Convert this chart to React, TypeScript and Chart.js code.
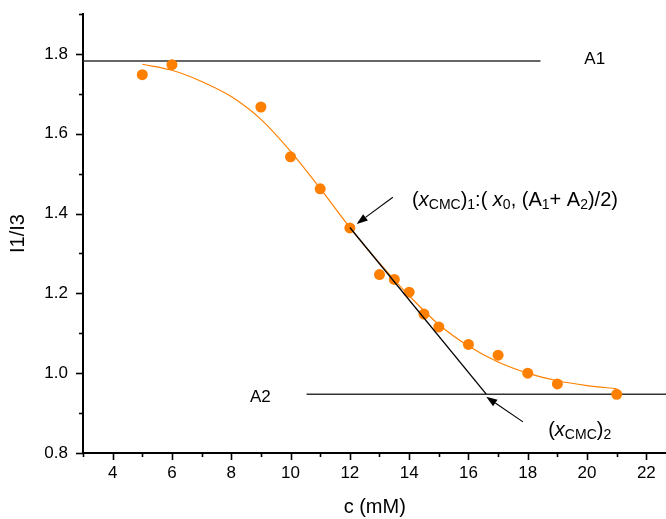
import { useEffect, useRef } from 'react';
import { Chart, registerables } from 'chart.js';

Chart.register(...registerables);

// Measured pyrene ratio I1/I3 versus surfactant concentration
const concentration = [5, 6, 9, 10, 11, 12, 13, 13.5, 14, 14.5, 15, 16, 17, 18, 19, 21];
const ratio = [1.748, 1.773, 1.667, 1.542, 1.462, 1.364, 1.247, 1.235, 1.203, 1.148, 1.116, 1.072, 1.045, 1.0, 0.973, 0.947];

// Sigmoidal fit curve, sampled along the concentration range
const fitX = [5, 6, 7, 8, 9, 10, 11, 12, 13, 14, 15, 16, 17, 18, 19, 20, 21];
const fitY = [1.774, 1.759, 1.731, 1.693, 1.636, 1.556, 1.463, 1.365, 1.276, 1.194, 1.122, 1.068, 1.028, 1.0, 0.981, 0.969, 0.961];

// Plateau levels A1 / A2 and the extent of their guide lines
const plateauA1 = 1.7825;
const plateauA2 = 0.9475;
const spanA1 = [3, 18.43];
const spanA2 = [10.54, 22.68];

// Tangent through the inflection point down to the A2 plateau
const tangentX = [12, 16.6];
const tangentY = [1.365, plateauA2];

// Axis ranges
const xMin = 3;
const xMax = 22.68;
const yMin = 0.8;
const yMax = 1.9;

const xTitle = 'c (mM)';
const yTitle = 'I1/I3';

const FONT = "'Liberation Sans', Arial, Helvetica, sans-serif";

// Canvas is a little wider than the visible frame so the x axis runs to the frame's edge
const VIEW_W = 666;
const VIEW_H = 519;
const CANVAS_W = 672;

type Seg = { t: string; size: number; italic?: boolean; dy?: number };

function drawRich(ctx: CanvasRenderingContext2D, segs: Seg[], x: number, y: number) {
  let cx = x;
  ctx.textBaseline = 'alphabetic';
  ctx.textAlign = 'left';
  for (const s of segs) {
    ctx.font = `${s.italic ? 'italic ' : ''}${s.size}px ${FONT}`;
    ctx.fillText(s.t, cx, y + (s.dy || 0));
    cx += ctx.measureText(s.t).width;
  }
}

function drawArrow(ctx: CanvasRenderingContext2D, x1: number, y1: number, x2: number, y2: number) {
  const ang = Math.atan2(y2 - y1, x2 - x1);
  const len = 11;
  const half = 4;
  const bx = x2 - len * Math.cos(ang);
  const by = y2 - len * Math.sin(ang);
  ctx.beginPath();
  ctx.moveTo(x1, y1);
  ctx.lineTo(bx, by);
  ctx.lineWidth = 1.1;
  ctx.strokeStyle = '#000';
  ctx.stroke();
  ctx.beginPath();
  ctx.moveTo(x2, y2);
  ctx.lineTo(bx + half * Math.sin(ang), by - half * Math.cos(ang));
  ctx.lineTo(bx - half * Math.sin(ang), by + half * Math.cos(ang));
  ctx.closePath();
  ctx.fillStyle = '#000';
  ctx.fill();
}

const main = 20;
const sub = 14;
const labelCmc1: Seg[] = [
  { t: '(', size: main },
  { t: 'x', size: main, italic: true },
  { t: 'CMC', size: sub, dy: 3 },
  { t: ')', size: main },
  { t: '1', size: sub, dy: 3 },
  { t: ':( ', size: main },
  { t: 'x', size: main, italic: true },
  { t: '0', size: sub, dy: 3 },
  { t: ', (A', size: main },
  { t: '1', size: sub, dy: 3 },
  { t: '+ A', size: main },
  { t: '2', size: sub, dy: 3 },
  { t: ')/2)', size: main },
];
const labelCmc2: Seg[] = [
  { t: '(', size: main },
  { t: 'x', size: main, italic: true },
  { t: 'CMC', size: sub, dy: 3 },
  { t: ')', size: main },
  { t: '2', size: sub, dy: 3 },
];

const decorations = {
  id: 'decorations',
  afterDatasetsDraw(chart: any) {
    const ctx: CanvasRenderingContext2D = chart.ctx;
    const xs = chart.scales.x;
    const ys = chart.scales.y;
    const px = (v: number) => xs.getPixelForValue(v);
    const py = (v: number) => ys.getPixelForValue(v);
    ctx.save();
    drawArrow(ctx, px(13.45), py(1.441), px(12.23), py(1.374));
    drawArrow(ctx, px(17.84), py(0.878), px(16.6), py(0.941));

    ctx.fillStyle = '#000';
    drawRich(ctx, labelCmc1, px(14.1), py(1.418));
    drawRich(ctx, labelCmc2, px(18.69), py(0.8425));

    ctx.font = `17px ${FONT}`;
    ctx.textBaseline = 'middle';
    ctx.textAlign = 'left';
    ctx.fillText('A1', px(19.91), py(1.7875));
    ctx.fillText('A2', px(8.63), py(0.94));
    ctx.restore();
  },
  afterDraw(chart: any) {
    const ctx: CanvasRenderingContext2D = chart.ctx;
    const area = chart.chartArea;
    const xs = chart.scales.x;
    const ys = chart.scales.y;
    ctx.save();
    ctx.strokeStyle = '#000';
    ctx.lineWidth = 1.6;
    for (const t of xs.ticks) {
      const v = t.value;
      const major = Math.round(v) % 2 === 0;
      const p = Math.round(xs.getPixelForValue(v)) + 0.5;
      ctx.beginPath();
      ctx.moveTo(p, area.bottom);
      ctx.lineTo(p, area.bottom + (major ? 7 : 4));
      ctx.stroke();
    }
    for (const t of ys.ticks) {
      const v = t.value;
      const major = Math.round(v * 10) % 2 === 0;
      const p = Math.round(ys.getPixelForValue(v)) + 0.5;
      ctx.beginPath();
      ctx.moveTo(area.left, p);
      ctx.lineTo(area.left - (major ? 7 : 4), p);
      ctx.stroke();
    }
    ctx.restore();
  },
};

export default function App() {
  const ref = useRef<HTMLCanvasElement | null>(null);

  useEffect(() => {
    if (!ref.current) return;
    const points = concentration.map((c, i) => ({ x: c, y: ratio[i] }));
    const fit = fitX.map((c, i) => ({ x: c, y: fitY[i] }));
    const tangent = tangentX.map((c, i) => ({ x: c, y: tangentY[i] }));
    const lineA1 = spanA1.map((c) => ({ x: c, y: plateauA1 }));
    const lineA2 = spanA2.map((c) => ({ x: c, y: plateauA2 }));

    const chart = new Chart(ref.current, {
      type: 'scatter',
      data: {
        datasets: [
          {
            data: tangent,
            showLine: true,
            borderColor: '#000',
            borderWidth: 1.3,
            pointRadius: 0,
          },
          {
            data: points,
            showLine: false,
            pointRadius: 5.5,
            pointBackgroundColor: '#FF8000',
            pointBorderWidth: 0,
          },
          {
            data: fit,
            showLine: true,
            borderColor: '#FF8000',
            borderWidth: 1.2,
            pointRadius: 0,
            cubicInterpolationMode: 'monotone',
          },
          {
            data: lineA1,
            showLine: true,
            borderColor: '#333',
            borderWidth: 1.5,
            pointRadius: 0,
          },
          {
            data: lineA2,
            showLine: true,
            borderColor: '#333',
            borderWidth: 1.5,
            pointRadius: 0,
          },
        ],
      } as any,
      options: {
        animation: false,
        responsive: false,
        devicePixelRatio: 1,
        layout: { padding: { top: 14, right: 0, bottom: 0, left: 0 } },
        plugins: {
          legend: { display: false },
          tooltip: { enabled: false },
        },
        scales: {
          x: {
            type: 'linear',
            min: xMin,
            max: xMax,
            afterFit: (s: any) => {
              s.height = 66;
              s.paddingLeft = 0;
              s.paddingRight = 0;
            },
            ticks: {
              stepSize: 1,
              includeBounds: false,
              autoSkip: false,
              maxRotation: 0,
              padding: 3,
              color: '#000',
              font: { family: FONT, size: 17 },
              callback: (v: any) => (Math.round(Number(v)) % 2 === 0 ? String(v) : ''),
            },
            grid: {
              drawOnChartArea: false,
              tickLength: 7,
              tickColor: 'rgba(0,0,0,0)',
            },
            border: { display: true, color: '#000', width: 2 },
            title: {
              display: true,
              text: xTitle,
              color: '#000',
              font: { family: FONT, size: 20 },
              padding: { top: 0, bottom: 0 },
            },
          },
          y: {
            type: 'linear',
            min: yMin,
            max: yMax,
            afterFit: (s: any) => {
              s.width = 83;
              s.paddingTop = 0;
              s.paddingBottom = 0;
            },
            ticks: {
              stepSize: 0.1,
              includeBounds: false,
              autoSkip: false,
              padding: 8,
              color: '#000',
              font: { family: FONT, size: 17 },
              callback: (v: any) => (Math.round(Number(v) * 10) % 2 === 0 ? Number(v).toFixed(1) : ''),
            },
            grid: {
              drawOnChartArea: false,
              tickLength: 7,
              tickColor: 'rgba(0,0,0,0)',
            },
            border: { display: true, color: '#000', width: 2 },
            title: {
              display: true,
              text: yTitle,
              color: '#000',
              font: { family: FONT, size: 20 },
              padding: { top: 6, bottom: 0 },
            },
          },
        },
      } as any,
      plugins: [decorations],
    });
    return () => chart.destroy();
  }, []);

  return (
    <div
      style={{
        position: 'fixed',
        left: 0,
        top: 0,
        width: VIEW_W,
        height: VIEW_H,
        overflow: 'hidden',
        background: '#fff',
      }}
    >
      <canvas
        ref={ref}
        width={CANVAS_W}
        height={VIEW_H}
        style={{ width: CANVAS_W, height: VIEW_H, display: 'block' }}
      />
    </div>
  );
}
